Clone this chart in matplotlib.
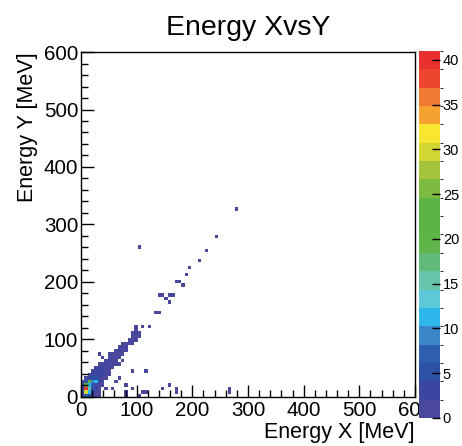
import numpy as np
import matplotlib.pyplot as plt
from matplotlib.colors import ListedColormap, BoundaryNorm

plt.rcParams['font.family'] = ['Liberation Sans', 'DejaVu Sans']

# 2D histogram, 100 x 100 bins of 6 MeV; filled bins listed as (x bin, y bin, count)
bin_width = 6
n_bins = 100
x_idx = [0, 1, 2, 3, 4, 5, 13, 17,
         0, 1, 2, 3, 4, 5, 13, 18, 19, 28, 44,
         0, 1, 2, 3, 4, 5, 7, 9, 15, 24, 28, 44,
         0, 1, 2, 3, 4, 5, 6, 13, 26,
         0, 1, 2, 3, 4, 5, 6, 10,
         1, 2, 3, 4, 5, 6, 7, 11,
         2, 3, 4, 5, 6, 7, 8,
         3, 4, 5, 6, 7, 8, 15, 19,
         4, 5, 6, 7, 8, 9,
         5, 6, 7, 8, 9, 10, 11,
         7, 8, 9, 10, 12,
         6, 8, 9, 10, 11,
         5, 8, 9, 10, 11, 12,
         10, 11, 12, 13,
         11, 12, 13,
         12, 13, 14, 15,
         14, 15, 16,
         15, 16, 17, 16,
         15, 16, 17,
         16,
         16, 18, 20,
         22, 23,
         26, 25, 23, 24, 26, 27,
         30, 28, 29, 31, 32, 35, 37, 40, 46, 17]
y_idx = [0, 0, 0, 0, 0, 0, 0, 0,
         1, 1, 1, 1, 1, 1, 1, 1, 1, 1, 1,
         2, 2, 2, 2, 2, 2, 2, 2, 2, 2, 2, 2,
         3, 3, 3, 3, 3, 3, 3, 3, 3,
         4, 4, 4, 4, 4, 4, 4, 4,
         5, 5, 5, 5, 5, 5, 5, 5,
         6, 6, 6, 6, 6, 6, 6,
         7, 7, 7, 7, 7, 7, 7, 7,
         8, 8, 8, 8, 8, 8,
         9, 9, 9, 9, 9, 9, 9,
         10, 10, 10, 10, 10,
         11, 11, 11, 11, 11,
         12, 12, 12, 12, 12, 12,
         13, 13, 13, 13,
         14, 14, 14,
         15, 15, 15, 15,
         16, 16, 16,
         17, 17, 17, 19,
         18, 18, 18,
         19,
         20, 20, 20,
         24, 24,
         27, 28, 29, 29, 29, 29,
         32, 33, 33, 35, 37, 39, 42, 46, 54, 43]
counts = [3, 8, 6, 3, 2, 1, 1, 1,
          4, 30, 12, 4, 2, 1, 1, 1, 1, 1, 1,
          6, 41, 15, 5, 3, 1, 1, 1, 1, 1, 1, 1,
          3, 20, 12, 8, 4, 2, 1, 1, 1,
          2, 6, 22, 9, 12, 3, 2, 1,
          2, 4, 6, 5, 3, 2, 1, 1,
          1, 3, 4, 4, 3, 2, 1,
          2, 3, 4, 3, 2, 1, 1, 1,
          1, 3, 3, 2, 2, 1,
          1, 2, 3, 2, 1, 1, 1,
          2, 3, 2, 1, 1,
          1, 1, 2, 2, 1,
          1, 1, 1, 2, 2, 1,
          1, 3, 2, 1,
          1, 2, 2,
          1, 2, 2, 1,
          1, 2, 1,
          1, 2, 2, 1,
          1, 1, 1,
          1,
          1, 1, 1,
          1, 1,
          1, 1, 1, 1, 1, 1,
          1, 1, 1, 1, 1, 1, 1, 1, 1, 1]

# ROOT-like palette, 20 contour levels
palette = ['#4A489C', '#3A46A0', '#2D52A5', '#2E5EAD', '#3A86C8',
           '#2EB7EA', '#5FC8D8', '#67C4AA', '#62BA7A', '#5FB54A',
           '#5CB445', '#5DB444', '#7DBA42', '#A3C43B', '#D2D633',
           '#F8E630', '#F6A233', '#F07A32', '#EE4530', '#E8302E']
z_max = 41

H = np.zeros((n_bins, n_bins))
for i, j, c in zip(x_idx, y_idx, counts):
    H[j, i] = c
H = np.ma.masked_equal(H, 0)
edges = np.arange(n_bins + 1) * bin_width

fig = plt.figure(figsize=(4.62, 4.46), dpi=100)
ax = fig.add_axes([0.1753, 0.1099, 0.7229, 0.7735])
cax = fig.add_axes([0.907, 0.0628, 0.0455, 0.8229])

cmap = ListedColormap(palette)
norm = BoundaryNorm(np.linspace(0, z_max, len(palette) + 1), cmap.N)
mesh = ax.pcolormesh(edges, edges, H, cmap=cmap, norm=norm)

ax.set_xlim(0, 600)
ax.set_ylim(0, 600)
ax.set_xticks(np.arange(0, 601, 100))
ax.set_yticks(np.arange(0, 601, 100))
ax.set_xticks(np.arange(0, 601, 20), minor=True)
ax.set_yticks(np.arange(0, 601, 20), minor=True)
ax.tick_params(which='major', direction='in', length=9, width=1, labelsize=14.8, pad=2)
ax.tick_params(which='minor', direction='in', length=5, width=1)
ax.tick_params(axis='x', pad=3)
for s in ax.spines.values():
    s.set_linewidth(1)

ax.set_title('Energy XvsY', fontsize=20.5, pad=12)
ax.set_xlabel('Energy X [MeV]', fontsize=15.5, loc='right', labelpad=1)
ax.set_ylabel('Energy Y [MeV]', fontsize=15.5, loc='top', labelpad=4)

cb = fig.colorbar(mesh, cax=cax, ticks=np.arange(0, 41, 5))
cb.outline.set_visible(False)
cb.ax.tick_params(direction='in', length=6, width=1, labelsize=10.5, pad=2, color='black')
cb.ax.set_ylim(0, z_max)

fig.savefig('out.png', dpi=100)
